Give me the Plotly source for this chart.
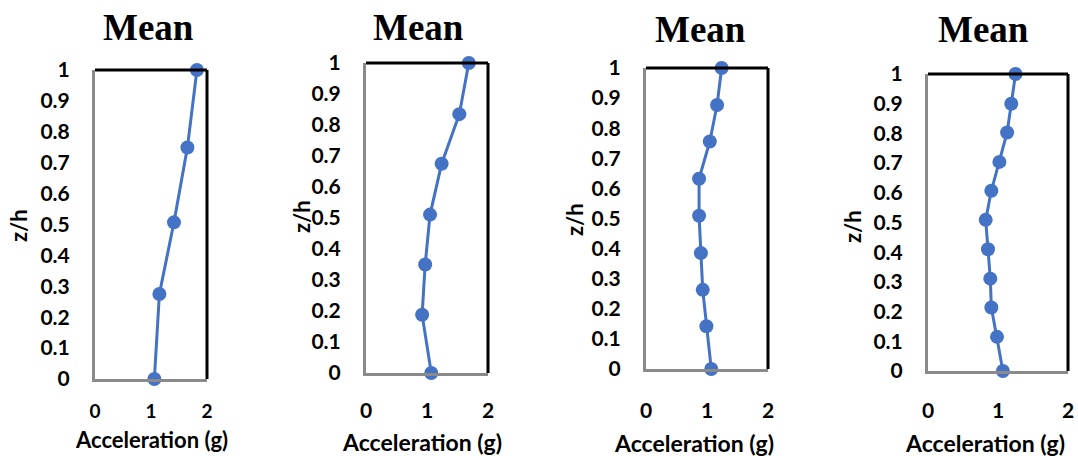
import plotly.graph_objects as go

W, H = 1078, 456

# Data (acceleration in g, normalized height z/h)
acc1 = [1.06, 1.15, 1.41, 1.65, 1.82]
zh1 = [0.0, 0.275, 0.507, 0.749, 1.0]

acc2 = [1.07, 0.92, 0.97, 1.05, 1.24, 1.53, 1.685]
zh2 = [0.0, 0.188, 0.35, 0.511, 0.675, 0.835, 1.0]

acc3 = [1.07, 0.99, 0.93, 0.90, 0.87, 0.87, 1.046, 1.165, 1.24]
zh3 = [0.0, 0.142, 0.263, 0.385, 0.509, 0.632, 0.756, 0.877, 1.0]

acc4 = [1.07, 0.986, 0.905, 0.89, 0.857, 0.824, 0.905, 1.02, 1.13, 1.19, 1.25]
zh4 = [0.0, 0.115, 0.214, 0.311, 0.41, 0.509, 0.607, 0.704, 0.803, 0.9, 1.0]

y_tickvals = [0, 0.1, 0.2, 0.3, 0.4, 0.5, 0.6, 0.7, 0.8, 0.9, 1]
y_ticktext = ["0", "0.1", "0.2", "0.3", "0.4", "0.5", "0.6", "0.7", "0.8", "0.9", "1"]
x_tickvals = [0, 1, 2]
x_ticktext = ["0", "1", "2"]

title_text = "Mean"
xtitle_text = "Acceleration (g)"
ytitle_text = "z/h"

series = [(acc1, zh1), (acc2, zh2), (acc3, zh3), (acc4, zh4)]

# Layout (pixel boxes: left, right, top, bottom)
boxes = [(95, 207, 70, 379), (366, 488, 63, 373), (646, 768, 68, 369), (928, 1068, 74, 371)]
title_pos = [(148, 28), (418, 28), (700, 30), (983, 30)]
xtitle_pos = [(151, 439), (422, 442), (694, 443), (985, 443)]
ytitle_pos = [(18, 226), (301, 217), (575, 220), (853, 227)]
xtick_standoff = [13, 17, 21, 19]
xtick_size = [19, 21, 21, 21]
xtitle_size = [22, 23, 23, 23]

BLUE = "#4472C4"
FONT = "Lato"

fig = go.Figure()
annotations = []
shapes = []
for i, ((acc, zh), (l, r, t, b)) in enumerate(zip(series, boxes)):
    n = "" if i == 0 else str(i + 1)
    fig.add_trace(go.Scatter(
        x=acc, y=zh, mode="lines+markers",
        line=dict(color=BLUE, width=3),
        marker=dict(color=BLUE, size=14),
        cliponaxis=False, showlegend=False,
        xaxis="x" + n, yaxis="y" + n,
    ))
    fig.layout["xaxis" + n] = dict(
        domain=[l / W, r / W], range=[0, 2], anchor="y" + n, automargin=False,
        tickvals=x_tickvals, ticktext=x_ticktext,
        showgrid=False, zeroline=False,
        showline=True, linecolor="#8a8a8a", linewidth=3,
        ticks="", ticklabelstandoff=xtick_standoff[i],
        tickfont=dict(family=FONT, size=xtick_size[i], color="black", weight="bold"),
    )
    fig.layout["yaxis" + n] = dict(
        domain=[1 - b / H, 1 - t / H], range=[0, 1], anchor="x" + n, automargin=False,
        tickvals=y_tickvals, ticktext=y_ticktext,
        showgrid=False, zeroline=False,
        showline=True, linecolor="#8a8a8a", linewidth=3,
        ticks="", ticklabelstandoff=18,
        tickfont=dict(family=FONT, size=21, color="black", weight="bold"),
    )
    xd = "x" + n + " domain"
    yd = "y" + n + " domain"
    # top and right border (black)
    shapes.append(dict(type="line", xref=xd, yref=yd, x0=0, x1=1, y0=1, y1=1,
                       line=dict(color="black", width=3)))
    shapes.append(dict(type="line", xref=xd, yref=yd, x0=1, x1=1, y0=0, y1=1,
                       line=dict(color="black", width=3)))
    tx, ty = title_pos[i]
    annotations.append(dict(text=title_text, x=tx / W, y=1 - ty / H, xref="paper", yref="paper",
                            showarrow=False, xanchor="center", yanchor="middle",
                            font=dict(family="Liberation Serif", size=37, color="black", weight="bold")))
    ax, ay = xtitle_pos[i]
    annotations.append(dict(text=xtitle_text, x=ax / W, y=1 - ay / H, xref="paper", yref="paper",
                            showarrow=False, xanchor="center", yanchor="middle",
                            font=dict(family=FONT, size=xtitle_size[i], color="black", weight="bold")))
    yx, yy = ytitle_pos[i]
    annotations.append(dict(text=ytitle_text, x=yx / W, y=1 - yy / H, xref="paper", yref="paper",
                            showarrow=False, xanchor="center", yanchor="middle", textangle=-90,
                            font=dict(family=FONT, size=22, color="black", weight="bold")))

fig.update_layout(
    width=W, height=H, margin=dict(l=0, r=0, t=0, b=0, autoexpand=False),
    paper_bgcolor="white", plot_bgcolor="white",
    annotations=annotations, shapes=shapes,
)

fig.write_html("out.html")
